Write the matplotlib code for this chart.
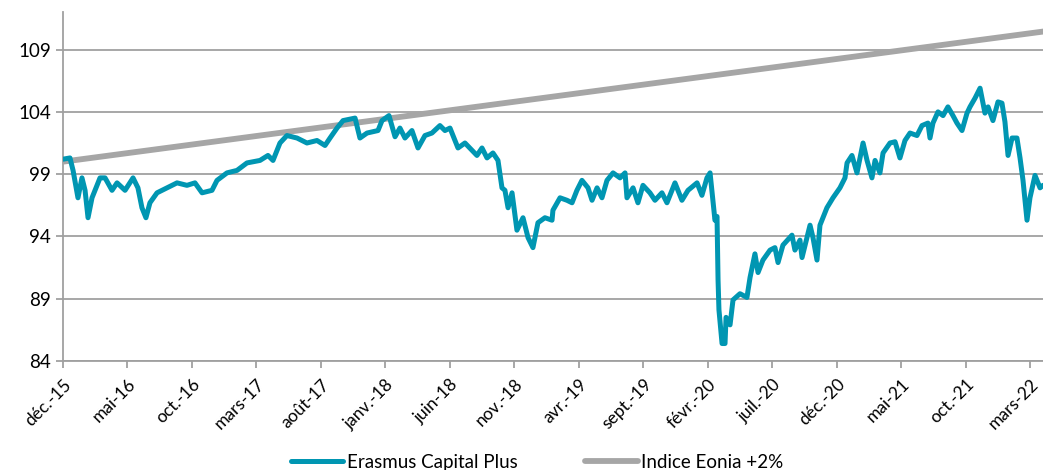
import matplotlib
matplotlib.use('Agg')
import matplotlib.pyplot as plt

# Erasmus Capital Plus (months since Dec 2015)
fund_months = [
    0.00, 0.54, 0.78, 1.16, 1.47, 1.71, 1.94, 2.25, 2.48, 2.87, 3.26, 3.80, 4.19, 4.81,
    5.43, 5.81, 6.12, 6.43, 6.74, 7.29, 8.06, 8.84, 9.61, 10.23, 10.78, 11.55, 11.94,
    12.71, 13.49, 14.26, 15.27, 15.89, 16.28, 16.82, 17.36, 18.14, 18.91, 19.69, 20.31,
    20.70, 21.24, 21.71, 22.64, 23.02, 23.57, 24.42, 24.73, 25.27, 25.74, 26.12, 26.51,
    27.05, 27.52, 28.06, 28.60, 29.22, 29.61, 30.00, 30.62, 31.16, 32.09, 32.48, 32.87,
    33.33, 33.72, 34.03, 34.26, 34.50, 34.81, 35.19, 35.66, 36.05, 36.43, 36.82, 37.36,
    37.91, 37.98, 38.53, 39.07, 39.46, 39.84, 40.23, 40.70, 41.01, 41.40, 41.78, 42.17,
    42.64, 43.18, 43.57, 43.72, 44.19, 44.57, 44.96, 45.50, 45.89, 46.43, 46.82, 47.44,
    47.98, 48.45, 49.15, 49.53, 49.92, 50.16, 50.54, 50.70, 50.78, 50.85, 51.09, 51.32,
    51.40, 51.71, 51.94, 52.48, 53.02, 53.26, 53.64, 53.88, 54.26, 54.81, 55.19, 55.43,
    55.81, 56.51, 56.74, 57.13, 57.29, 57.67, 57.91, 58.14, 58.45, 58.68, 59.22, 59.69,
    60.23, 60.62, 60.78, 61.16, 61.55, 62.02, 62.33, 62.71, 62.95, 63.33, 63.57, 64.11,
    64.50, 64.88, 65.27, 65.66, 66.20, 66.59, 67.05, 67.21, 67.44, 67.83, 68.22, 68.60,
    68.99, 69.30, 69.69, 70.08, 70.31, 70.70, 71.09, 71.47, 71.71, 72.09, 72.48, 72.79,
    73.02, 73.26, 73.57, 73.95, 74.19, 74.42, 74.73, 74.96, 75.35, 75.74, 75.97,
]
fund_values = [
    100.2, 100.3, 99.3, 97.1, 98.7, 97.7, 95.5, 97.1, 97.7, 98.7, 98.7, 97.7, 98.3, 97.7,
    98.7, 97.9, 96.3, 95.5, 96.7, 97.5, 97.9, 98.3, 98.1, 98.3, 97.5, 97.7, 98.5,
    99.1, 99.3, 99.9, 100.1, 100.5, 100.1, 101.5, 102.1, 101.9, 101.5, 101.7, 101.3,
    101.9, 102.7, 103.3, 103.5, 101.9, 102.3, 102.5, 103.3, 103.7, 102.0, 102.7, 101.9,
    102.5, 101.1, 102.1, 102.3, 102.9, 102.5, 102.7, 101.1, 101.5, 100.5, 101.1, 100.3,
    100.7, 100.1, 97.9, 97.7, 96.3, 97.5, 94.5, 95.5, 93.9, 93.1, 95.1, 95.5,
    95.3, 96.1, 97.1, 96.9, 96.7, 97.7, 98.5, 97.9, 96.9, 97.9, 97.1, 98.5,
    99.1, 98.7, 99.1, 97.1, 97.9, 96.7, 98.1, 97.5, 96.9, 97.5, 96.7, 98.3,
    96.9, 97.7, 98.3, 97.3, 98.7, 99.1, 95.3, 95.6, 90.5, 88.1, 85.4, 85.4,
    87.5, 86.9, 88.9, 89.4, 89.1, 90.7, 92.6, 91.1, 92.1, 92.9, 93.1, 91.9,
    93.3, 94.1, 92.9, 93.7, 92.3, 93.9, 94.9, 93.9, 92.1, 94.9, 96.3, 97.1,
    97.9, 98.7, 99.9, 100.5, 99.1, 101.5, 100.1, 98.7, 100.1, 99.1, 100.7, 101.5,
    101.6, 100.3, 101.7, 102.3, 102.1, 102.9, 103.1, 101.9, 103.1, 104.0, 103.7, 104.4,
    103.7, 103.1, 102.5, 103.9, 104.4, 105.1, 105.9, 103.9, 104.4, 103.3, 104.8, 104.7,
    103.2, 100.5, 101.9, 101.9, 100.3, 98.5, 95.3, 97.1, 98.9, 97.9, 98.1,
]

# Indice Eonia +2%
eonia_months = [0, 12, 24, 36, 48, 60, 72, 76]
eonia_values = [100.0, 101.65, 103.3, 104.95, 106.6, 108.25, 109.9, 110.45]

tick_months = list(range(0, 76, 5))
tick_labels = ['déc.-15', 'mai-16', 'oct.-16', 'mars-17', 'août-17', 'janv.-18',
               'juin-18', 'nov.-18', 'avr.-19', 'sept.-19', 'févr.-20', 'juil.-20',
               'déc.-20', 'mai-21', 'oct.-21', 'mars-22']
y_ticks = [84, 89, 94, 99, 104, 109]

plt.rcParams['font.family'] = ['Lato', 'DejaVu Sans']

fig = plt.figure(figsize=(10.43, 4.70), dpi=100)
ax = fig.add_axes([0.0604, 0.232, 0.9396, 0.742])

grid_color = '#a0a0a0'
ax.plot(eonia_months, eonia_values, color='#a6a6a6', linewidth=4.2,
        label='Indice Eonia +2%', solid_capstyle='round', zorder=3)
ax.plot(fund_months, fund_values, color='#0096b2', linewidth=3.6,
        label='Erasmus Capital Plus', solid_joinstyle='round',
        solid_capstyle='round', zorder=4)

ax.set_xlim(0, 75.97)
ax.set_ylim(84, 112)
ax.set_yticks(y_ticks)
ax.set_xticks(tick_months)
ax.set_xticklabels(tick_labels, rotation=45, ha='right', rotation_mode='anchor')

ax.yaxis.grid(True, color=grid_color, linewidth=1.3)
ax.set_axisbelow(True)

for side in ['top', 'right']:
    ax.spines[side].set_visible(False)
for side in ['left', 'bottom']:
    ax.spines[side].set_color(grid_color)
    ax.spines[side].set_linewidth(1.3)

ax.tick_params(axis='both', colors=grid_color, labelcolor='black', length=5,
               width=1.3, labelsize=13.5)
ax.tick_params(axis='x', pad=6, labelsize=12.5)

# legend order: fund first
handles, labels = ax.get_legend_handles_labels()
fig.legend(handles[::-1], labels[::-1], loc='center', bbox_to_anchor=(0.515, 0.016),
           ncol=2, frameon=False, fontsize=13.5, handlelength=2.8, columnspacing=3.6,
           handletextpad=0.2, borderpad=0)

fig.savefig('out.png', dpi=100)
